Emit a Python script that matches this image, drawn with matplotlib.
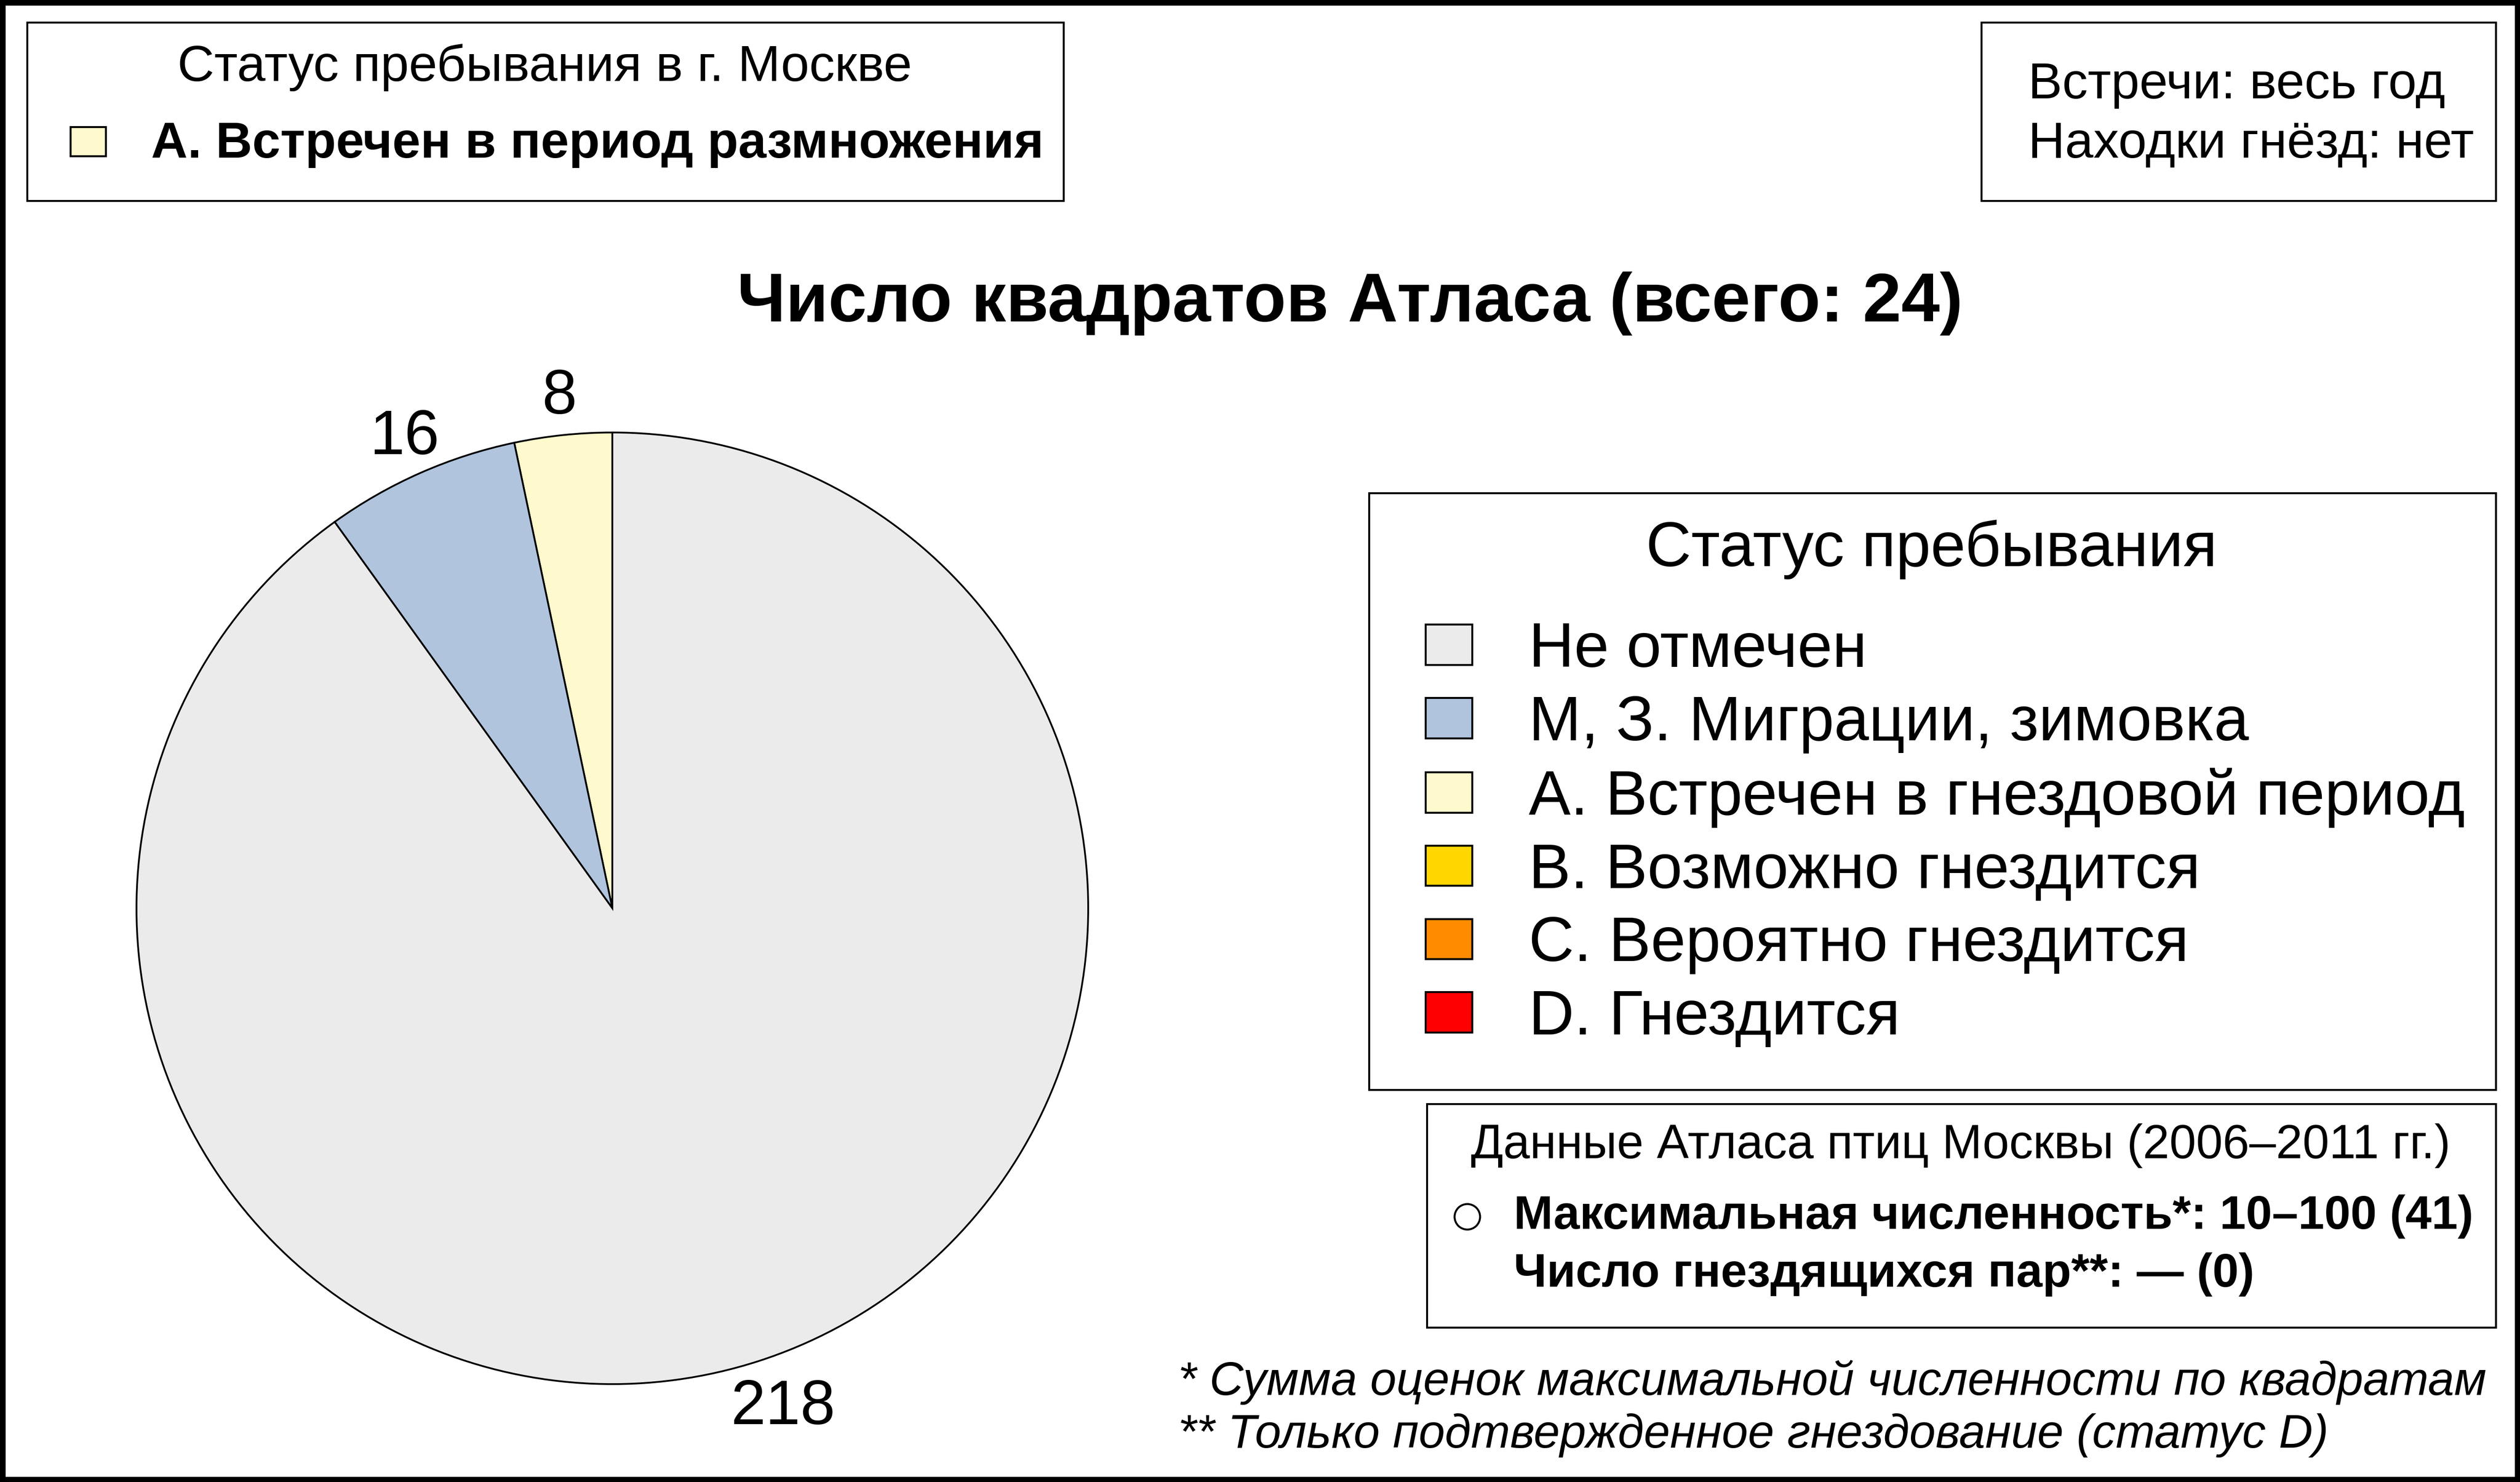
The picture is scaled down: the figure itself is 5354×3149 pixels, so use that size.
import matplotlib
matplotlib.use('Agg')
import matplotlib.pyplot as plt
import numpy as np
from matplotlib.patches import Rectangle, Patch

plt.rcParams['font.family'] = ['Liberation Sans', 'DejaVu Sans']

# данные круговой диаграммы (против часовой стрелки от верха)
slice_counts = [8, 16, 218]
slice_colors = ['#FFFACD', '#B0C4DE', '#EBEBEB']

# легенда статусов пребывания
status_labels = ['Не отмечен', 'М, З. Миграции, зимовка', 'А. Встречен в гнездовой период',
                 'В. Возможно гнездится', 'С. Вероятно гнездится', 'D. Гнездится']
status_colors = ['#EBEBEB', '#B0C4DE', '#FFFACD', '#FFD700', '#FF8C00', '#FF0000']

title_text = 'Число квадратов Атласа (всего: 24)'
moscow_status = 'А. Встречен в период размножения'
info_lines = ['Встречи: весь год', 'Находки гнёзд: нет']
data_title = 'Данные Атласа птиц Москвы (2006–2011 гг.)'
data_lines = ['Максимальная численность*: 10–100 (41)', 'Число гнездящихся пар**: — (0)']
footnotes = ['* Сумма оценок максимальной численности по квадратам',
             '** Только подтвержденное гнездование (статус D)']

W, H = 5354, 3149
DPI = 300
fig = plt.figure(figsize=(W / DPI, H / DPI), dpi=DPI)

# фоновая ось в пиксельных координатах
bg = fig.add_axes([0, 0, 1, 1])
bg.set_xlim(0, W)
bg.set_ylim(H, 0)
bg.axis('off')


def box(x0, y0, x1, y1):
    bg.add_patch(Rectangle((x0, y0), x1 - x0, y1 - y0, fill=False, lw=1.0, ec='black'))


# верхний левый блок
box(58, 48, 2260, 427)
bg.text(1157, 143, 'Статус пребывания в г. Москве', fontsize=26, ha='center', va='center')
bg.add_patch(Rectangle((150, 270), 75, 62, fc=slice_colors[0], ec='black', lw=1.0))
bg.text(321, 307, moscow_status, fontsize=25.8, fontweight='bold', ha='left', va='center')

# верхний правый блок
box(4210, 48, 5303, 427)
bg.text(4309, 181, info_lines[0], fontsize=26, ha='left', va='center')
bg.text(4309, 307, info_lines[1], fontsize=26, ha='left', va='center')

# заголовок
bg.text(2868, 645, title_text, fontsize=35.3, fontweight='bold', ha='center', va='center')

# блок легенды
box(2909, 1048, 5303, 2316)
bg.text(4104, 1168, 'Статус пребывания', fontsize=32, ha='center', va='center')
handles = [Patch(facecolor=c, edgecolor='black', lw=1.0) for c in status_colors]
bg.legend(handles, status_labels, loc='center left',
          bbox_to_anchor=(3029 / W, 1 - 1773 / H), bbox_transform=fig.transFigure,
          frameon=False, fontsize=32, handlelength=0.74, handleheight=0.61,
          handletextpad=0.9, labelspacing=0.23, borderpad=0, borderaxespad=0)

# блок данных атласа
box(3032, 2346, 5303, 2821)
bg.text(4166, 2435, data_title, fontsize=24.4, ha='center', va='center')
bg.plot([3117], [2585], marker='o', ms=13, mfc='white', mec='black', mew=1.0)
bg.text(3216, 2585, data_lines[0], fontsize=24, fontweight='bold', ha='left', va='center')
bg.text(3216, 2708, data_lines[1], fontsize=24, fontweight='bold', ha='left', va='center')

# сноски
bg.text(2503, 2937, footnotes[0], fontsize=24, style='italic', ha='left', va='center')
bg.text(2503, 3050, footnotes[1], fontsize=24, style='italic', ha='left', va='center')

# круговая диаграмма
cx, cy, R = 1301, 1930, 1011
lim = 1.3
side = 2 * R * lim
ax = fig.add_axes([(cx - side / 2) / W, (H - cy - side / 2) / H, side / W, side / H])
wedges, texts = ax.pie(slice_counts, colors=slice_colors, startangle=90, counterclock=True,
                       labels=[str(v) for v in slice_counts], labeldistance=1.08,
                       wedgeprops=dict(edgecolor='black', linewidth=0.9),
                       textprops=dict(fontsize=32))
for t in texts:
    t.set_ha('center')
    t.set_va('center')
# подпись большого сектора справа снизу
ang = np.deg2rad(-71)
texts[2].set_position((1.1 * np.cos(ang), 1.1 * np.sin(ang) - 0.01))
ax.set_xlim(-lim, lim)
ax.set_ylim(-lim, lim)
ax.set_aspect('equal')
ax.axis('off')

# внешняя рамка
fig.patches.append(Rectangle((0, 0), 1, 1, transform=fig.transFigure, fill=False,
                             lw=5.5, ec='black'))

fig.savefig('out.png', dpi=DPI)
